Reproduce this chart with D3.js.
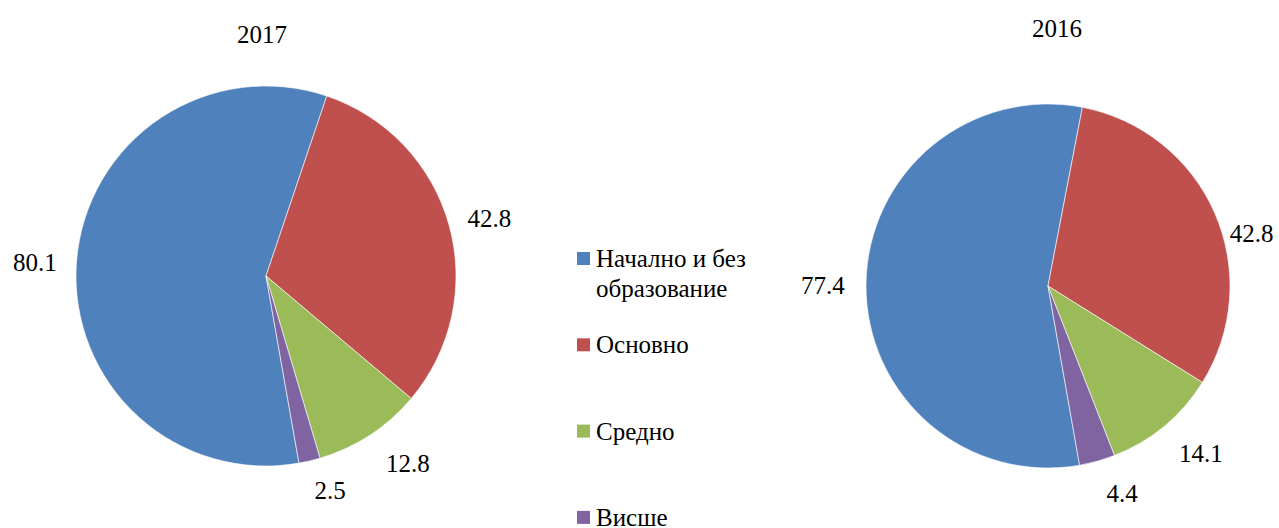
<!DOCTYPE html>
<html>
<head>
<meta charset="utf-8">
<script src="https://cdn.jsdelivr.net/npm/d3@7"></script>
<style>
  body { margin: 0; background: #fff; }
</style>
</head>
<body>
<script>
const categories = ["Начално и без образование", "Основно", "Средно", "Висше"];
const legendLines = [["Начално и без", "образование"], ["Основно"], ["Средно"], ["Висше"]];
const colors = ["#4F81BD", "#C0504D", "#9BBB59", "#8064A2"];
const years = ["2017", "2016"];
const values2017 = [80.1, 42.8, 12.8, 2.5];
const values2016 = [77.4, 42.8, 14.1, 4.4];

const width = 1279, height = 528;
const fontSize = 25;
const fontFamily = "'Liberation Serif', 'Times New Roman', Tinos, 'DejaVu Serif', serif";

let svg = d3.select("body")
    .append("svg")
    .attr("width", width)
    .attr("height", height)
    .attr("font-family", fontFamily);

// label nudges mimic the "best fit" placement of the original
const pies = [
    {year: years[0], values: values2017, cx: 266, cy: 276, r: 190, titleX: 262, titleY: 43,
        nudge: [[0, 4], [0, 5], [15, -7], [11, -11]]},
    {year: years[1], values: values2016, cx: 1048, cy: 286, r: 182, titleX: 1057, titleY: 37,
        nudge: [[-3, 1], [0, 36], [11, -4], [14, -6]]}
];

// slices end at 170deg clockwise from top, as in the original
const pieGen = d3.pie()
    .sort(null)
    .startAngle(-190 * Math.PI / 180)
    .endAngle(170 * Math.PI / 180);

pies.forEach(p => {
    let g = svg.append("g")
        .attr("transform", "translate(" + p.cx + "," + p.cy + ")");
    let arcs = pieGen(p.values);
    let arc = d3.arc().innerRadius(0).outerRadius(p.r);
    let labelArc = d3.arc().innerRadius(p.r * 1.22).outerRadius(p.r * 1.22);

    g.selectAll("path")
        .data(arcs)
        .enter()
        .append("path")
        .attr("d", arc)
        .attr("fill", (d, i) => colors[i])
        .attr("stroke", "#fff")
        .attr("stroke-width", 0.6);

    g.selectAll("text.label")
        .data(arcs)
        .enter()
        .append("text")
        .attr("class", "label")
        .attr("transform", (d, i) => {
            let c = labelArc.centroid(d);
            return "translate(" + (c[0] + p.nudge[i][0]) + "," + (c[1] + p.nudge[i][1]) + ")";
        })
        .attr("text-anchor", "middle")
        .attr("dy", "0.35em")
        .attr("font-size", fontSize)
        .text(d => d.data.toFixed(1));

    svg.append("text")
        .attr("x", p.titleX)
        .attr("y", p.titleY)
        .attr("text-anchor", "middle")
        .attr("font-size", fontSize)
        .text(p.year);
});

// legend
const legendX = 577, legendY0 = 252, legendStep = 86.3, box = 13;
let legend = svg.append("g")
    .selectAll("g")
    .data(categories)
    .enter()
    .append("g")
    .attr("transform", (d, i) => "translate(" + legendX + "," + (legendY0 + i * legendStep) + ")");

legend.append("rect")
    .attr("width", box)
    .attr("height", box)
    .attr("fill", (d, i) => colors[i]);

legend.append("text")
    .attr("x", 19)
    .attr("y", 15)
    .attr("font-size", fontSize)
    .selectAll("tspan")
    .data((d, i) => legendLines[i])
    .enter()
    .append("tspan")
    .attr("x", 19)
    .attr("dy", (d, j) => j === 0 ? 0 : 30)
    .text(d => d);
</script>
</body>
</html>
